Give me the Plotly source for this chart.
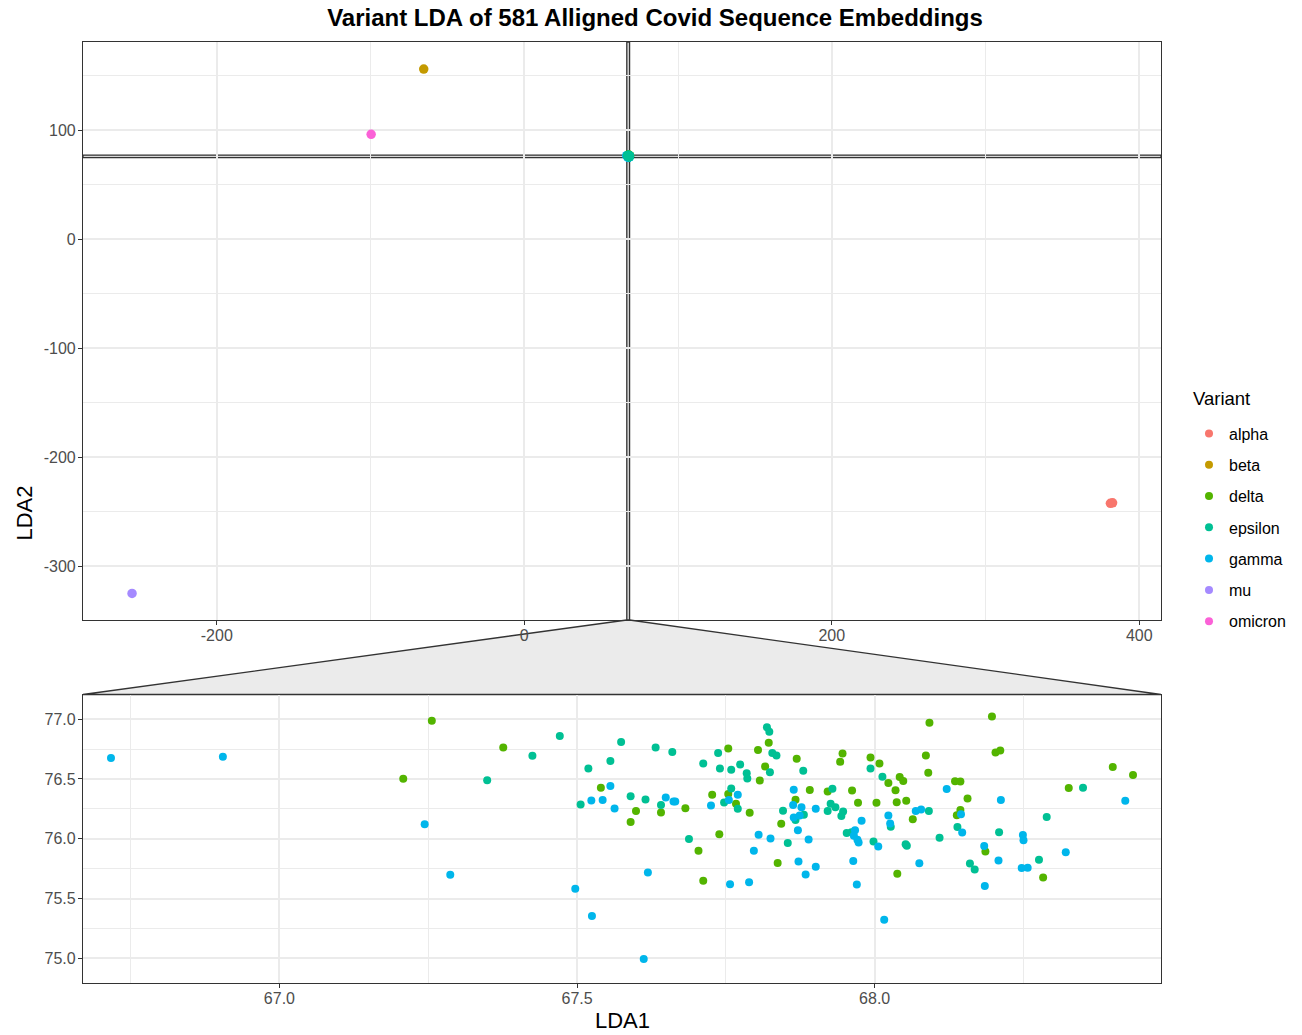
import plotly.graph_objects as go

# ---------------- data ----------------
VARIANTS = ["alpha", "beta", "delta", "epsilon", "gamma", "mu", "omicron"]
COLORS = ["#F8766D", "#C49A00", "#53B400", "#00C094", "#00B6EB", "#A58AFF", "#FB61D7"]
TOP_DRAW_ORDER = ["alpha", "beta", "delta", "gamma", "epsilon", "mu", "omicron"]

ALPHA_X = [381.2, 382.6]
ALPHA_Y = [-242.4, -242.0]
BETA_X = [-65.4]
BETA_Y = [156.2]
MU_X = [-255.1]
MU_Y = [-325.1]
OMICRON_X = [-99.6]
OMICRON_Y = [96.3]

DELTA_X = [67.208, 67.256, 67.376, 67.540, 67.599, 67.641, 67.590, 67.682, 67.704, 67.712,
           67.727, 67.754, 67.754, 67.767, 67.790, 67.739, 67.804, 67.822, 67.816, 67.807,
           67.869, 67.867, 67.843, 67.837, 67.891, 67.946, 67.942, 67.921, 67.962, 67.972,
           67.993, 68.008, 68.003, 68.023, 68.035, 68.042, 68.048, 68.037, 68.053, 68.064,
           68.038, 68.092, 68.086, 68.090, 68.197, 68.203, 68.211, 68.135, 68.144, 68.156,
           68.144, 68.138, 68.186, 68.283, 68.326, 68.400, 68.434]
DELTA_Y = [76.501, 76.986, 76.763, 76.426, 76.231, 76.219, 76.141, 76.254, 75.899, 75.648,
           76.367, 76.754, 76.375, 76.292, 76.217, 76.037, 76.743, 76.802, 76.604, 76.487,
           76.668, 76.327, 76.125, 75.798, 76.407, 76.712, 76.643, 76.395, 76.403, 76.300,
           76.679, 76.630, 76.300, 76.466, 76.406, 76.516, 76.482, 76.306, 76.317, 76.162,
           75.707, 76.969, 76.697, 76.551, 77.022, 76.721, 76.737, 76.480, 76.478, 76.336,
           76.240, 76.197, 75.893, 75.676, 76.424, 76.599, 76.534]

EPSILON_X = [67.349, 67.425, 67.471, 67.574, 67.632, 67.660, 67.556, 67.519, 67.590, 67.615,
             67.506, 67.641, 67.688, 67.712, 67.737, 67.740, 67.759, 67.774, 67.785, 67.786,
             67.759, 67.747, 67.770, 67.819, 67.823, 67.828, 67.835, 67.824, 67.854, 67.846,
             67.880, 67.881, 67.867, 67.929, 67.926, 67.934, 67.921, 67.947, 67.944, 67.953,
             67.961, 67.993, 68.013, 67.998, 68.052, 68.054, 68.091, 68.109, 68.139, 68.209,
             68.160, 68.168, 68.276, 68.289, 68.350, 68.027]
EPSILON_Y = [76.490, 76.693, 76.858, 76.808, 76.763, 76.725, 76.651, 76.587, 76.356, 76.328,
             76.286, 76.283, 75.997, 76.629, 76.716, 76.587, 76.576, 76.620, 76.548, 76.503,
             76.421, 76.304, 76.250, 76.933, 76.894, 76.716, 76.696, 76.557, 75.964, 76.235,
             76.568, 76.200, 76.156, 76.417, 76.292, 76.263, 76.233, 76.227, 76.190, 76.049,
             76.055, 76.587, 76.518, 75.977, 75.953, 75.942, 76.231, 76.009, 76.098, 76.055,
             75.793, 75.742, 75.824, 76.181, 76.426, 76.101]

GAMMA_X = [66.717, 66.905, 67.244, 67.287, 67.497, 67.525, 67.612, 67.619, 67.524, 67.543,
           67.556, 67.563, 67.649, 67.662, 67.665, 67.725, 67.755, 67.770, 67.797, 67.805,
           67.825, 67.757, 67.789, 67.864, 67.863, 67.877, 67.864, 67.874, 67.871, 67.889,
           67.872, 67.884, 67.901, 67.901, 67.978, 67.967, 67.965, 67.971, 67.973, 67.964,
           67.970, 68.006, 68.023, 68.026, 68.016, 68.069, 68.078, 68.075, 68.121, 68.145,
           68.147, 68.184, 68.208, 68.185, 68.212, 68.249, 68.250, 68.247, 68.257, 68.321,
           68.421]
GAMMA_Y = [76.676, 76.685, 76.122, 75.698, 75.581, 75.355, 74.995, 75.717, 76.319, 76.323,
           76.442, 76.253, 76.344, 76.311, 76.311, 76.278, 76.323, 76.367, 75.899, 76.033,
           76.002, 75.620, 75.637, 76.409, 76.283, 76.264, 76.177, 76.194, 76.072, 75.993,
           75.809, 75.701, 75.765, 76.250, 76.150, 76.072, 76.025, 75.992, 75.968, 75.815,
           75.617, 75.935, 76.194, 76.127, 75.322, 76.233, 76.244, 75.796, 76.415, 76.204,
           76.052, 75.939, 75.819, 75.605, 76.325, 76.031, 75.987, 75.755, 75.758, 75.888,
           76.317]

SERIES_X = [ALPHA_X, BETA_X, DELTA_X, EPSILON_X, GAMMA_X, MU_X, OMICRON_X]
SERIES_Y = [ALPHA_Y, BETA_Y, DELTA_Y, EPSILON_Y, GAMMA_Y, MU_Y, OMICRON_Y]

# axis ranges / ticks
TOP_XRANGE = [-287.0, 414.1]
TOP_YRANGE = [-349.5, 181.0]
ZOOM_XRANGE = [66.670, 68.481]
ZOOM_YRANGE = [74.794, 77.206]

TOP_XTICKS = [-200, 0, 200, 400]
TOP_XLABELS = ["-200", "0", "200", "400"]
TOP_YTICKS = [-300, -200, -100, 0, 100]
TOP_YLABELS = ["-300", "-200", "-100", "0", "100"]
ZOOM_XTICKS = [67.0, 67.5, 68.0]
ZOOM_XLABELS = ["67.0", "67.5", "68.0"]
ZOOM_YTICKS = [75.0, 75.5, 76.0, 76.5, 77.0]
ZOOM_YLABELS = ["75.0", "75.5", "76.0", "76.5", "77.0"]

TITLE = "Variant LDA of 581 Alligned Covid Sequence Embeddings"
LEGEND_TITLE = "Variant"

# ---------------- figure ----------------
FONT = "Liberation Sans, Arial, Helvetica, sans-serif"
W, H = 1302, 1035
ML, MR, MT, MB = 83, 141, 42, 52
PW = W - ML - MR
PH = H - MT - MB
TOP_DOMAIN = [(H - MB - 620) / PH, 1.0]
BOT_DOMAIN = [0.0, (H - MB - 694.5) / PH]

fig = go.Figure()

lookup = {n: (c, xs, ys) for n, c, xs, ys in zip(VARIANTS, COLORS, SERIES_X, SERIES_Y)}
for name in TOP_DRAW_ORDER:
    col, xs, ys = lookup[name]
    fig.add_trace(go.Scatter(x=xs, y=ys, mode="markers", name=name, legendgroup=name,
                             showlegend=False, xaxis="x", yaxis="y",
                             marker=dict(color=col, size=9.5, line=dict(width=0))))
for name in VARIANTS:
    col, xs, ys = lookup[name]
    fig.add_trace(go.Scatter(x=xs, y=ys, mode="markers", name=name, legendgroup=name,
                             showlegend=True, xaxis="x2", yaxis="y2",
                             marker=dict(color=col, size=8, line=dict(width=0))))

GRID = "#EBEBEB"
BORDER = "#333333"
TICKFONT = dict(family=FONT, size=16, color="#4D4D4D")


def axis(rng, tickvals, ticktext, minor_dtick, minor_tick0, domain, anchor):
    return dict(range=rng, autorange=False, tickmode="array", tickvals=tickvals,
                ticktext=ticktext, showgrid=True, gridcolor=GRID, gridwidth=1.6,
                minor=dict(dtick=minor_dtick, tick0=minor_tick0, showgrid=True,
                           gridcolor=GRID, gridwidth=0.8, ticks=""),
                zeroline=False, showline=True, linecolor=BORDER, linewidth=1.2,
                mirror=True, ticks="outside", ticklen=4, tickcolor=BORDER,
                tickwidth=1.2, tickfont=TICKFONT, domain=domain, anchor=anchor)


fig.update_layout(
    xaxis=axis(TOP_XRANGE, TOP_XTICKS, TOP_XLABELS, 100, 0, [0, 1], "y"),
    yaxis=axis(TOP_YRANGE, TOP_YTICKS, TOP_YLABELS, 50, 0, TOP_DOMAIN, "x"),
    xaxis2=axis(ZOOM_XRANGE, ZOOM_XTICKS, ZOOM_XLABELS, 0.25, 67.0, [0, 1], "y2"),
    yaxis2=axis(ZOOM_YRANGE, ZOOM_YTICKS, ZOOM_YLABELS, 0.25, 75.0, BOT_DOMAIN, "x2"),
)
fig.update_xaxes(ticklabelstandoff=-3)
fig.update_yaxes(ticklabelstandoff=-1)

# zoom indicator bands in the top panel
fig.add_shape(type="rect", xref="x", yref="y", x0=ZOOM_XRANGE[0], x1=ZOOM_XRANGE[1],
              y0=TOP_YRANGE[0], y1=TOP_YRANGE[1], fillcolor="#D9D9D9",
              line=dict(color=BORDER, width=1.3), layer="below")
fig.add_shape(type="rect", xref="x", yref="y", x0=TOP_XRANGE[0], x1=TOP_XRANGE[1],
              y0=ZOOM_YRANGE[0], y1=ZOOM_YRANGE[1], fillcolor="#D9D9D9",
              line=dict(color=BORDER, width=1.3), layer="below")

# connector trapezoid between the panels
span = TOP_XRANGE[1] - TOP_XRANGE[0]
p0 = (ZOOM_XRANGE[0] - TOP_XRANGE[0]) / span
p1 = (ZOOM_XRANGE[1] - TOP_XRANGE[0]) / span
yt, yb = TOP_DOMAIN[0], BOT_DOMAIN[1]
fig.add_shape(type="path", xref="paper", yref="paper",
              path=f"M 0 {yb} L {p0} {yt} L {p1} {yt} L 1 {yb} Z",
              fillcolor="#EBEBEB", line=dict(color=BORDER, width=1.3), layer="below")

# axis titles
fig.add_annotation(text="LDA2", xref="paper", yref="paper", x=(24 - ML) / PW,
                   y=0.5, xanchor="center", yanchor="middle", textangle=-90,
                   showarrow=False, font=dict(family=FONT, size=22, color="black"))
fig.add_annotation(text="LDA1", xref="paper", yref="paper", x=0.5,
                   y=(H - MB - 1021) / PH, xanchor="center", yanchor="middle",
                   showarrow=False, font=dict(family=FONT, size=22, color="black"))
# legend title
fig.add_annotation(text=LEGEND_TITLE, xref="paper", yref="paper", x=(1191 - ML) / PW,
                   y=(H - MB - 398) / PH, xanchor="left", yanchor="middle",
                   showarrow=False, font=dict(family=FONT, size=18.5, color="black"))

fig.update_layout(
    width=W, height=H,
    margin=dict(l=ML, r=MR, t=MT, b=MB, autoexpand=False),
    paper_bgcolor="white", plot_bgcolor="white",
    title=dict(text=TITLE, x=655 / W, xanchor="center", xref="container",
               y=1 - 18 / H, yanchor="middle", yref="container",
               font=dict(family=FONT, size=24, color="black", weight="bold")),
    legend=dict(font=dict(family=FONT, size=16, color="black"),
                x=(1189 - ML) / PW, xanchor="left",
                y=(H - MB - 416.5) / PH, yanchor="top",
                tracegroupgap=7.5, bgcolor="rgba(0,0,0,0)"),
    showlegend=True,
)

fig.write_html("out.html")
